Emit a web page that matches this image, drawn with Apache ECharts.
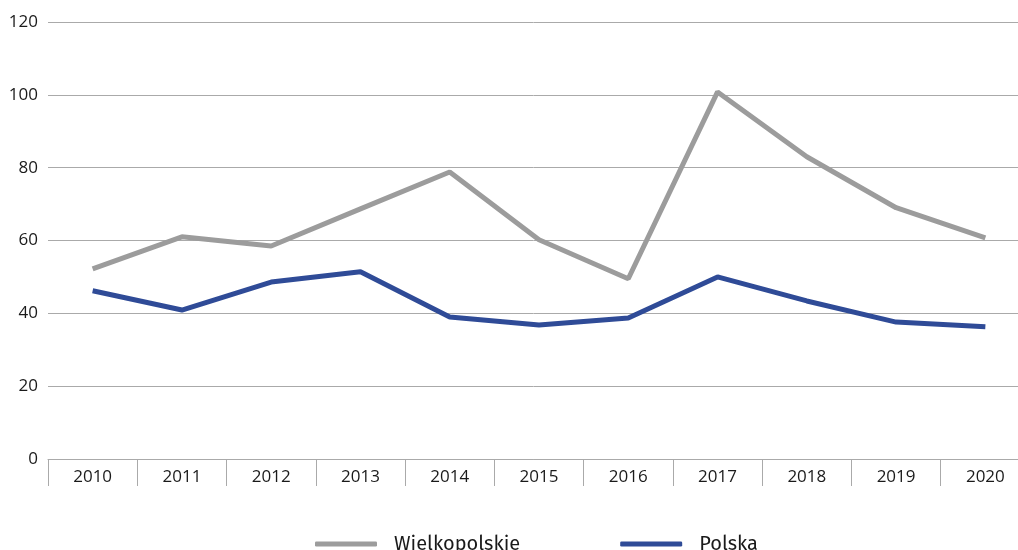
<!DOCTYPE html>
<html>
<head>
<meta charset="utf-8">
<script src="https://cdn.jsdelivr.net/npm/echarts@6/dist/echarts.min.js"></script>
<style>
  html, body { margin: 0; padding: 0; background: #fff; }
  #chart { width: 1018px; height: 550px; }
</style>
</head>
<body>
<div id="chart"></div>
<script>
const years = ['2010', '2011', '2012', '2013', '2014', '2015', '2016', '2017', '2018', '2019', '2020'];
const wielkopolskie = [52.2, 61, 58.5, 68.7, 78.8, 60.2, 49.5, 100.8, 83, 69, 60.7];
const polska = [46.2, 40.9, 48.6, 51.4, 39, 36.8, 38.7, 50, 43.4, 37.6, 36.3];

const font = '"Open Sans", "Noto Sans", sans-serif';

const options = {
  animation: false,
  grid: { left: 48, right: -12, top: 22, bottom: 91, outerBoundsMode: 'none' },
  legend: {
    data: ['Wielkopolskie', 'Polska'],
    bottom: -4,
    left: 315,
    padding: 0,
    icon: 'roundRect',
    itemWidth: 62,
    itemHeight: 5,
    itemGap: 100,
    textStyle: { fontFamily: '"Fira Sans", "Noto Sans", sans-serif', fontSize: 20, color: '#1a1a1a', padding: [0, 0, 0, 12] }
  },
  xAxis: {
    type: 'category',
    data: years,
    boundaryGap: true,
    axisLine: { lineStyle: { color: '#aaa', width: 1 } },
    axisTick: { show: true, length: 27, interval: 0, lineStyle: { color: '#aaa' } },
    axisLabel: { color: '#1a1a1a', fontSize: 17, fontFamily: font, margin: 10, interval: 0 }
  },
  yAxis: {
    type: 'value',
    min: 0,
    max: 120,
    interval: 20,
    axisLine: { show: false },
    axisTick: { show: false },
    axisLabel: { color: '#1a1a1a', fontSize: 17, fontFamily: font, margin: 10 },
    splitLine: { lineStyle: { color: '#aaa', width: 1 } }
  },
  series: [
    {
      name: 'Wielkopolskie',
      type: 'line',
      data: wielkopolskie,
      showSymbol: false,
      symbol: 'none',
      itemStyle: { color: '#9c9c9c' },
      lineStyle: { color: '#9c9c9c', width: 5 }
    },
    {
      name: 'Polska',
      type: 'line',
      data: polska,
      showSymbol: false,
      symbol: 'none',
      itemStyle: { color: '#2f4b97' },
      lineStyle: { color: '#2f4b97', width: 5 }
    }
  ]
};

echarts.init(document.getElementById('chart')).setOption(options);
</script>
</body>
</html>
